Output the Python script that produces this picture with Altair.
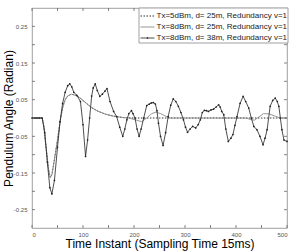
import altair as alt
import pandas as pd

FONT = "Liberation Sans"

series_names = [
    "Tx=5dBm, d= 25m, Redundancy v=1",
    "Tx=8dBm, d= 25m, Redundancy v=1",
    "Tx=8dBm, d= 38m, Redundancy v=1",
]

# Series A: Tx=5dBm, d=25m
tA = [0, 10, 20, 23, 26, 30, 33, 36, 39, 42, 46, 50, 55, 60, 65, 70, 77, 85, 93,
      105, 117, 130, 145, 160, 180, 200, 250, 300, 350, 400, 450, 500]
vA = [0, 0, 0, -0.02, -0.06, -0.11, -0.145, -0.162, -0.155, -0.13, -0.095, -0.06,
      -0.01, 0.028, 0.05, 0.06, 0.065, 0.062, 0.056, 0.042, 0.028, 0.018, 0.01,
      0.005, 0.001, 0, 0, 0, 0, 0, 0, 0]

# Series B: Tx=8dBm, d=25m
tB = [0, 10, 20, 23, 26, 30, 33, 36, 39, 42, 46, 50, 55, 60, 65, 70, 77, 85, 93,
      105, 117, 130, 145, 160, 180, 190, 205, 215, 225, 235, 243, 252, 262, 272,
      300, 350, 400, 420, 428, 436, 445, 454, 465, 475, 487, 500]
vB = [0, 0, 0, -0.02, -0.06, -0.11, -0.145, -0.162, -0.155, -0.13, -0.095, -0.06,
      -0.01, 0.028, 0.05, 0.06, 0.065, 0.062, 0.056, 0.042, 0.028, 0.018, 0.01,
      0.005, 0.001, 0, -0.006, -0.01, 0.0, 0.012, 0.016, 0.012, 0.005, 0,
      0, 0, 0, 0, -0.004, -0.006, 0.003, 0.012, 0.011, 0.006, 0, 0]

# Series C: Tx=8dBm, d=38m
tC = [0, 5, 10, 15, 20, 25, 30, 35, 39, 44, 50, 55, 60, 65, 70, 74, 78, 82, 88,
      95, 100, 105, 109, 113, 117, 120, 124, 128, 133, 138, 143, 147, 153, 160,
      166, 172, 178, 182, 186, 190, 195, 198, 202, 206, 210, 214, 219, 225, 230,
      234, 238, 242, 245, 248, 252, 257, 262, 267, 272, 277, 282, 287, 292, 297,
      301, 305, 310, 315, 321, 326, 330, 334, 338, 342, 346, 351, 356, 361, 366,
      369, 372, 376, 380, 385, 390, 394, 398, 402, 408, 414, 419, 425, 430, 435,
      441, 447, 453, 457, 461, 467, 472, 477, 481, 484, 487, 490, 494, 500]
vC = [0, 0, 0, 0, 0, -0.04, -0.12, -0.19, -0.207, -0.17, -0.08, -0.01, 0.04,
      0.07, 0.088, 0.093, 0.085, 0.07, 0.062, 0.045, -0.018, -0.105, -0.06, 0.0,
      0.06, 0.082, 0.093, 0.075, 0.059, 0.065, 0.073, 0.08, 0.045, 0.018, 0.004,
      -0.025, -0.05, -0.03, -0.005, 0.012, 0.02, 0.012, 0.0, -0.03, -0.05, -0.03,
      0.0, 0.034, 0.038, 0.041, 0.042, 0.038, 0.02, -0.014, -0.05, -0.075, -0.04,
      0.004, 0.035, 0.052, 0.045, 0.032, 0.015, -0.005, -0.025, -0.039, -0.03,
      -0.023, -0.027, -0.018, -0.005, 0.015, 0.021, 0.02, 0.018, 0.022, 0.024,
      0.03, 0.036, 0.03, 0.018, 0.009, -0.03, -0.064, -0.055, -0.045, -0.02,
      0.004, 0.04, 0.059, 0.045, 0.027, 0.0, -0.023, -0.032, -0.05, -0.073,
      -0.055, -0.032, 0.032, 0.048, 0.054, 0.045, 0.032, 0.0, -0.032, -0.06,
      -0.064]

x_ticks = [0, 50, 100, 150, 200, 250, 300, 350, 400, 450, 500]
y_ticks = [-0.25, -0.2, -0.15, -0.1, -0.05, 0, 0.05, 0.1, 0.15, 0.2, 0.25]

W, H = 255, 220

dfA = pd.DataFrame({"t": tA, "v": vA})
dfB = pd.DataFrame({"t": tB, "v": vB})
dfC = pd.DataFrame({"t": tC, "v": vC})

xs = alt.Scale(domain=[0, 500], nice=False, zero=False)
ys = alt.Scale(domain=[-0.3, 0.3], nice=False, zero=False)

xaxis = alt.Axis(values=x_ticks, labelFontSize=6, labelColor="#555", labelFont=FONT,
                 tickSize=0, domain=False, grid=False, labelPadding=3,
                 title="Time Instant (Sampling Time 15ms)", titleFont=FONT,
                 titleFontSize=12, titleFontWeight="normal", titleColor="#000",
                 titleBaseline="alphabetic", titleY=19.5)
yaxis = alt.Axis(values=y_ticks, labelFontSize=6, labelColor="#555", labelFont=FONT,
                 tickSize=0, domain=False, grid=False, labelPadding=5,
                 labelExpr="toString(datum.value)",
                 title="Pendulum Angle (Radian)", titleFont=FONT,
                 titleFontSize=12, titleFontWeight="normal", titleColor="#000",
                 titleAngle=270, titleBaseline="alphabetic", titleX=-20, titleY=110)

base_x = alt.X("t:Q", scale=xs, axis=xaxis)
base_y = alt.Y("v:Q", scale=ys, axis=yaxis)

lineA = alt.Chart(dfA).mark_line(color="#333", strokeWidth=1, strokeDash=[1.5, 1.5]).encode(x=base_x, y=base_y)
lineB = alt.Chart(dfB).mark_line(color="#8a8a8a", strokeWidth=0.9).encode(x=base_x, y=base_y)
lineC = alt.Chart(dfC).mark_line(color="#222", strokeWidth=0.8).encode(x=base_x, y=base_y)
ptsC = alt.Chart(dfC).mark_circle(color="#222", size=3, opacity=1).encode(x=base_x, y=base_y)

dfxt = pd.DataFrame({"t": x_ticks})
dfyt = pd.DataFrame({"v": y_ticks})
tick_col = "#666"
xt_bot = alt.Chart(dfxt).mark_rule(color=tick_col, strokeWidth=0.8).encode(
    x=alt.X("t:Q", scale=xs), y=alt.value(H), y2=alt.value(H - 3))
xt_top = alt.Chart(dfxt).mark_rule(color=tick_col, strokeWidth=0.8).encode(
    x=alt.X("t:Q", scale=xs), y=alt.value(0), y2=alt.value(3))
yt_left = alt.Chart(dfyt).mark_rule(color=tick_col, strokeWidth=0.8).encode(
    y=alt.Y("v:Q", scale=ys), x=alt.value(0), x2=alt.value(3))
yt_right = alt.Chart(dfyt).mark_rule(color=tick_col, strokeWidth=0.8).encode(
    y=alt.Y("v:Q", scale=ys), x=alt.value(W), x2=alt.value(W - 3))

# manual legend
leg_box = alt.Chart(pd.DataFrame({"a": [0]})).mark_rect(
    fill="white", stroke="#888", strokeWidth=0.8).encode(
    x=alt.value(107), x2=alt.value(256), y=alt.value(0), y2=alt.value(35))

styles = [
    dict(color="#333", strokeWidth=1, strokeDash=[1.5, 1.5]),
    dict(color="#8a8a8a", strokeWidth=0.9),
    dict(color="#222", strokeWidth=0.8),
]
leg_layers = [leg_box]
for i, name in enumerate(series_names):
    d = pd.DataFrame({"series": [name]})
    yy = 8 + 11 * i
    leg_layers.append(alt.Chart(d).mark_rule(**styles[i]).encode(
        x=alt.value(108.5), x2=alt.value(122.5), y=alt.value(yy)))
    leg_layers.append(alt.Chart(d).mark_text(
        align="left", baseline="middle", fontSize=8, font=FONT, color="#222").encode(
        x=alt.value(124.5), y=alt.value(yy), text="series:N"))
ptleg = alt.Chart(pd.DataFrame({"series": [series_names[2]]})).mark_circle(
    color="#222", size=3, opacity=1).encode(x=alt.value(115.5), y=alt.value(30))
leg_layers.append(ptleg)

chart = alt.layer(lineA, lineB, lineC, ptsC, xt_bot, xt_top, yt_left, yt_right,
                  *leg_layers).properties(
    width=W, height=H,
    autosize=alt.AutoSizeParams(type="none"),
    padding={"left": 32, "top": 8, "right": 11, "bottom": 23},
    background="white",
).configure_view(stroke="#888", strokeWidth=0.8)

chart.save("out.html", embed_options={"renderer": "svg", "actions": False})
